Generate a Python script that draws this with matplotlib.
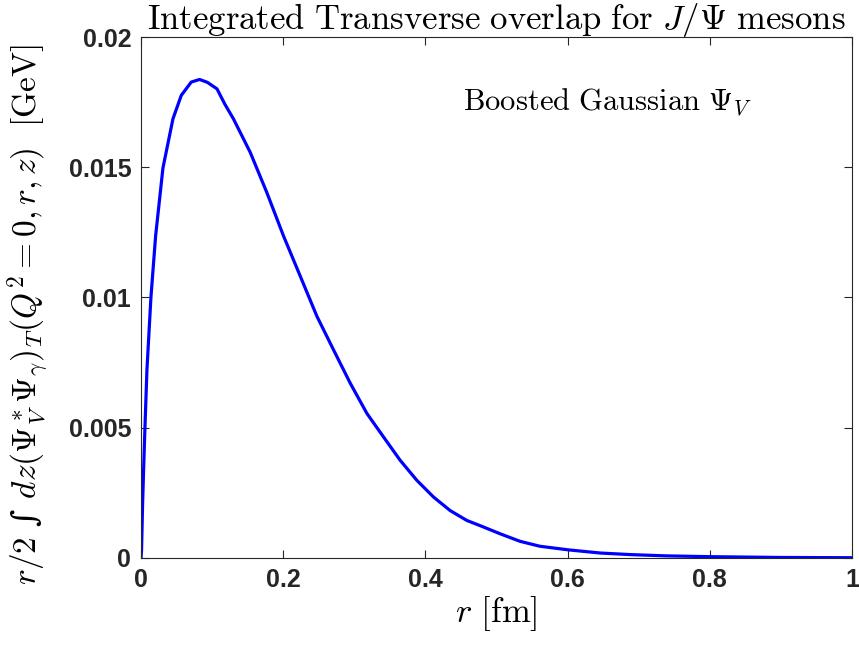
import matplotlib
matplotlib.use('Agg')
import matplotlib.pyplot as plt

plt.rcParams['mathtext.fontset'] = 'cm'
plt.rcParams['font.family'] = ['Liberation Sans', 'DejaVu Sans']

# values
r = [0.0, 0.0008, 0.0023, 0.0037, 0.0056, 0.0084, 0.014, 0.0206, 0.0309, 0.045,
     0.0567, 0.0707, 0.0824, 0.0934, 0.1069, 0.118, 0.13, 0.1537, 0.177, 0.2005,
     0.224, 0.2474, 0.2708, 0.2943, 0.3177, 0.341, 0.3645, 0.388, 0.4114, 0.4348,
     0.4583, 0.477, 0.505, 0.533, 0.561, 0.6015, 0.646, 0.688, 0.739, 0.8,
     0.9, 1.0]
overlap = [0.0, 0.00028, 0.00208, 0.00337, 0.005, 0.00722, 0.01, 0.01236, 0.01497, 0.01686,
           0.01776, 0.01827, 0.01837, 0.01826, 0.01801, 0.01742, 0.01686, 0.01557, 0.01403, 0.01236,
           0.01082, 0.00928, 0.00799, 0.00671, 0.00555, 0.00465, 0.00375, 0.00298, 0.00234, 0.00182,
           0.00144, 0.00124, 0.00093, 0.00064, 0.00045, 0.00031, 0.00019, 0.00013, 0.00008, 0.00005,
           0.00002, 0.00001]

xticks = [0, 0.2, 0.4, 0.6, 0.8, 1]
xtick_labels = ['0', '0.2', '0.4', '0.6', '0.8', '1']
yticks = [0, 0.005, 0.01, 0.015, 0.02]
ytick_labels = ['0', '0.005', '0.01', '0.015', '0.02']

fig = plt.figure(figsize=(8.59, 6.47), dpi=100)
ax = fig.add_axes([0.1641, 0.1376, 0.8278, 0.8052])

ax.plot(r, overlap, color=(0, 0, 1), linewidth=2.3, solid_joinstyle='round')

ax.set_xlim(0, 1)
ax.set_ylim(0, 0.02)
ax.set_xticks(xticks)
ax.set_xticklabels(xtick_labels)
ax.set_yticks(yticks)
ax.set_yticklabels(ytick_labels)

gray = (0.15, 0.15, 0.15)
for s in ax.spines.values():
    s.set_color(gray)
    s.set_linewidth(0.8)
ax.tick_params(direction='in', length=6, width=0.8, color=gray,
               top=True, right=True, labelsize=18, labelcolor=gray, pad=7)
for lab in ax.get_xticklabels() + ax.get_yticklabels():
    lab.set_fontweight('bold')

ax.set_title(r'$\mathrm{Integrated\ Transverse\ overlap\ for\ }J/\Psi\mathrm{\ mesons}$',
             fontsize=25, pad=6)
ax.set_xlabel(r'$r\ [\mathrm{fm}]$', fontsize=25, labelpad=2)
ax.set_ylabel(r'$r/2$ ∫ $dz(\Psi^*_V\Psi_\gamma)_T(Q^2=0,r,z)\ \ [\mathrm{GeV}]$',
              fontsize=24, family=['DejaVu Serif'])
ax.yaxis.set_label_coords(-0.126, 0.468)

ax.text(0.453, 0.0175, r'$\mathrm{Boosted\ Gaussian\ }\Psi_V$', fontsize=22,
        ha='left', va='center')

fig.savefig('out.png', dpi=100)
